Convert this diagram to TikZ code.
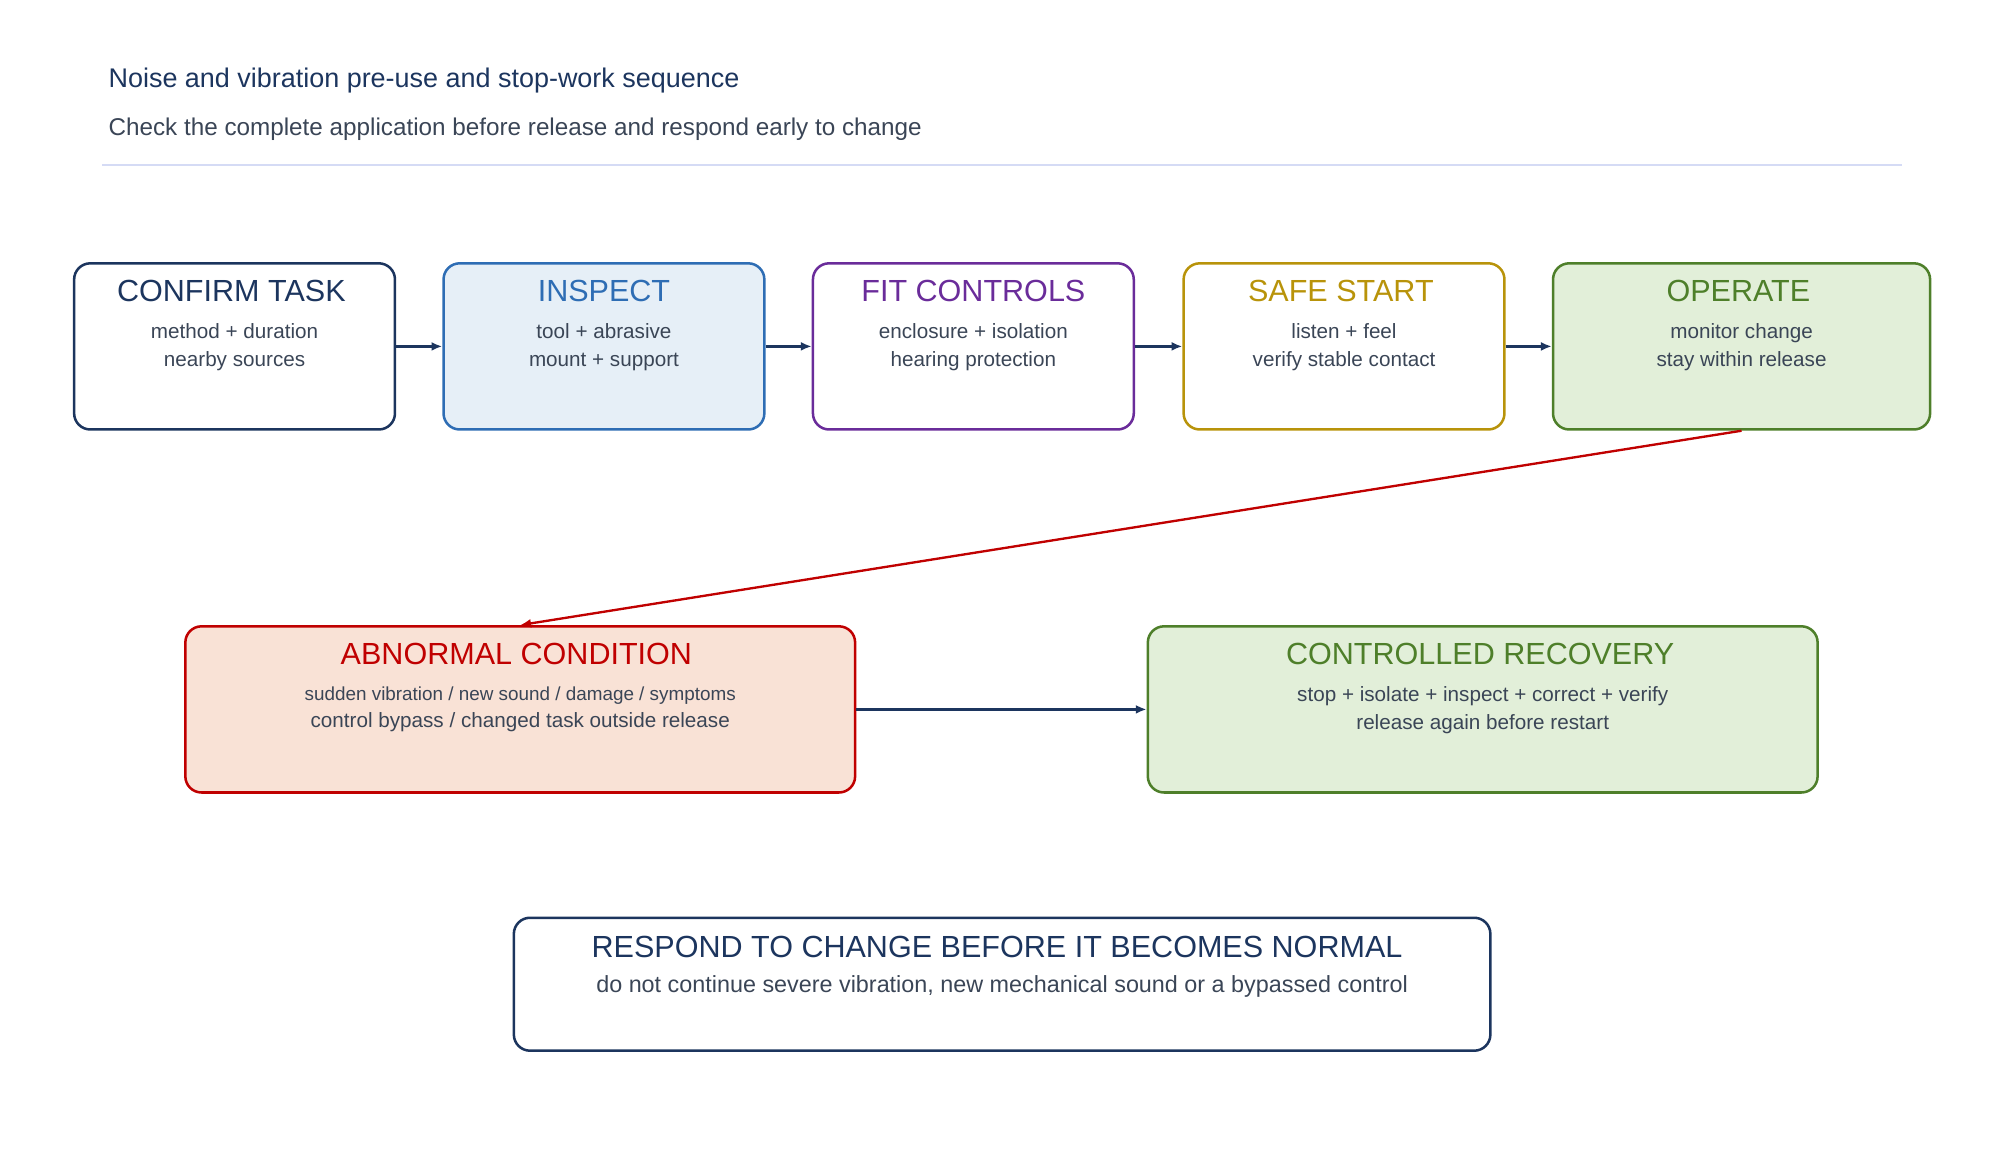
\documentclass[tikz,border=0pt]{standalone}
\usepackage{fontspec}
\setmainfont{Liberation Sans}
\usetikzlibrary{positioning}
\usetikzlibrary{arrows.meta}
\definecolor{navy}{HTML}{1C355E}
\definecolor{bluec}{HTML}{2E6DB4}
\definecolor{bluef}{HTML}{E6EFF7}
\definecolor{purp}{HTML}{6A2C9A}
\definecolor{gold}{HTML}{B8930A}
\definecolor{grn}{HTML}{4E7F2A}
\definecolor{grnf}{HTML}{E2EFD9}
\definecolor{redc}{HTML}{C00000}
\definecolor{redf}{HTML}{F9E2D6}
\definecolor{txt}{HTML}{3A4556}
\definecolor{rule}{HTML}{D5DBF5}
\tikzset{
  stage/.style={draw, rounded corners=9pt, line width=1.4pt, minimum height=130*0.25mm},
  head/.style={font=\fontsize{17}{20}\selectfont, anchor=center},
  body/.style={font=\fontsize{11.5}{15.5}\selectfont, text=txt, align=center, anchor=north},
  flow/.style={-{Latex[length=6pt,width=5pt]}, line width=1.3pt, navy}
}
\begin{document}
\begin{tikzpicture}[x=0.25mm, y=-0.25mm]
		\useasboundingbox (0,0) rectangle (1560,908);

		\node[anchor=west, text=navy, font=\fontsize{15}{18}\selectfont] (title) at (80,63) {Noise and vibration pre-use and stop-work sequence};
		\node[anchor=west, text=txt, font=\fontsize{13.5}{16}\selectfont] (subtitle) at (80,101) {Check the complete application before release and respond early to change};
		\draw[rule, line width=1pt] (80,129) -- (1488,129);

		\node[stage, navy, minimum width=251*0.25mm] (confirm) at (183.5,271) {};
		\node[stage, bluec, fill=bluef, minimum width=251*0.25mm] (inspect) at (472.5,271) {};
		\node[stage, purp, minimum width=251*0.25mm] (fit) at (761.5,271) {};
		\node[stage, gold, minimum width=251*0.25mm] (safe) at (1051.5,271) {};
		\node[stage, grn, fill=grnf, minimum width=295*0.25mm] (operate) at (1362.5,271) {};

		\node[stage, redc, fill=redf, minimum width=524*0.25mm] (abnormal) at (407,555) {};
		\node[stage, grn, fill=grnf, minimum width=524*0.25mm] (recovery) at (1160,555) {};
		\node[stage, navy, minimum width=764*0.25mm, minimum height=104*0.25mm] (respond) at (784,770) {};

		\node[head, text=navy] at (181,228) {CONFIRM TASK};
		\node[body] at (183.5,248) {method + duration\\nearby sources};
		\node[head, text=bluec] at (472.5,228) {INSPECT};
		\node[body] at (472.5,248) {tool + abrasive\\mount + support};
		\node[head, text=purp] at (761.5,228) {FIT CONTROLS};
		\node[body] at (761.5,248) {enclosure + isolation\\hearing protection};
		\node[head, text=gold] at (1049,228) {SAFE START};
		\node[body] at (1051.5,248) {listen + feel\\verify stable contact};
		\node[head, text=grn] at (1360,228) {OPERATE};
		\node[body] at (1362.5,248) {monitor change\\stay within release};

		\node[head, text=redc] at (404,512) {ABNORMAL CONDITION};
		\node[body] at (407,532) {{\fontsize{10.5}{15.5}\selectfont sudden vibration / new sound / damage / symptoms}\\control bypass / changed task outside release};
		\node[head, text=grn] at (1158,512) {CONTROLLED RECOVERY};
		\node[body] at (1160,532) {stop + isolate + inspect + correct + verify\\release again before restart};

		\node[head, text=navy] at (780,741) {RESPOND TO CHANGE BEFORE IT BECOMES NORMAL};
		\node[body, font=\fontsize{13}{16}\selectfont] at (784,758) {do not continue severe vibration, new mechanical sound or a bypassed control};

		\draw[flow] (confirm) -- (inspect);
		\draw[flow] (inspect) -- (fit);
		\draw[flow] (fit) -- (safe);
		\draw[flow] (safe) -- (operate);
		\draw[flow, redc] (operate.south) -- (abnormal.north);
		\draw[flow] (abnormal) -- (recovery);
\end{tikzpicture}
\end{document}
